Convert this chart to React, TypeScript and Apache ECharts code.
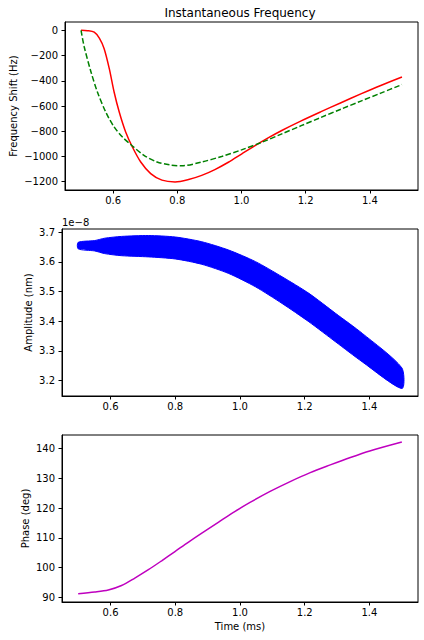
import React, { useEffect, useRef } from "react";
import * as echarts from "echarts";

// Top panel: instantaneous frequency shift (Hz) vs time (ms)
const RED_X = [0.5, 0.52, 0.541, 0.557, 0.572, 0.588, 0.603, 0.619, 0.639, 0.66, 0.686, 0.717, 0.752, 0.793, 0.835, 0.876, 0.917, 0.959, 1.0, 1.041, 1.083, 1.124, 1.186, 1.248, 1.31, 1.372, 1.434, 1.5];
const RED_Y = [0, -3, -15, -62, -146, -304, -489, -648, -806, -925, -1044, -1136, -1188, -1202, -1183, -1150, -1104, -1046, -981, -916, -853, -796, -718, -645, -574, -504, -437, -370];
const GREEN_X = [0.5, 0.51, 0.531, 0.551, 0.577, 0.603, 0.629, 0.66, 0.696, 0.737, 0.779, 0.814, 0.876, 0.938, 1.0, 1.062, 1.124, 1.186, 1.248, 1.31, 1.372, 1.434, 1.5];
const GREEN_Y = [0, -132, -330, -489, -648, -766, -846, -917, -991, -1044, -1068, -1074, -1044, -1000, -948, -889, -823, -756, -690, -625, -561, -498, -430];

// Middle panel: amplitude envelope (units of 1e-8 nm)
const AMP_X = [0.5, 0.551, 0.582, 0.634, 0.717, 0.8, 0.882, 0.965, 1.048, 1.13, 1.213, 1.296, 1.378, 1.5];
const AMP_UPPER = [3.666, 3.672, 3.68, 3.686, 3.689, 3.684, 3.668, 3.64, 3.601, 3.55, 3.494, 3.426, 3.359, 3.243];
const AMP_LOWER = [3.644, 3.637, 3.628, 3.621, 3.617, 3.61, 3.592, 3.561, 3.516, 3.46, 3.398, 3.33, 3.263, 3.173];

// Bottom panel: phase (deg)
const PHASE_X = [0.5, 0.551, 0.593, 0.634, 0.675, 0.717, 0.758, 0.799, 0.841, 0.882, 0.934, 0.985, 1.031, 1.093, 1.155, 1.217, 1.279, 1.341, 1.401, 1.5];
const PHASE_Y = [91.2, 91.8, 92.5, 94.0, 96.5, 99.3, 102.3, 105.4, 108.6, 111.6, 115.3, 118.9, 121.9, 125.6, 128.9, 131.9, 134.5, 137.0, 139.2, 142.2];

// Tick labels
const X_TICKS = [0.6, 0.8, 1.0, 1.2, 1.4];
const FREQ_TICKS = [0, -200, -400, -600, -800, -1000, -1200];
const AMP_TICKS = [3.2, 3.3, 3.4, 3.5, 3.6, 3.7];
const PHASE_TICKS = [90, 100, 110, 120, 130, 140];

const FONT = "DejaVu Sans";

const zip = (xs: number[], ys: number[]) => xs.map((x, i) => [x, ys[i]]);

export default function App() {
  const ref = useRef<HTMLDivElement>(null);
  useEffect(() => {
    if (!ref.current) return;
    const chart = echarts.init(ref.current, undefined, { renderer: "svg" });
    const grids = [
      { left: 62, top: 22, width: 356, height: 168 },
      { left: 62, top: 229, width: 356, height: 167 },
      { left: 62, top: 435, width: 356, height: 167 },
    ].map((g) => ({ ...g, show: true, borderColor: "#000", borderWidth: 1, backgroundColor: "transparent" }));

    const label = { fontSize: 10, color: "#000", fontFamily: FONT };
    const xAxes = [0, 1, 2].map((i) => ({
      type: "value",
      gridIndex: i,
      min: 0.45,
      max: 1.55,
      axisLine: { show: true, onZero: false, lineStyle: { color: "#000", width: 1 } },
      axisTick: { show: true, length: 3.5, customValues: X_TICKS, lineStyle: { color: "#000" } },
      axisLabel: { ...label, customValues: X_TICKS, margin: 5, formatter: (v: number) => v.toFixed(1) },
      splitLine: { show: false },
      name: i === 2 ? "Time (ms)" : "",
      nameLocation: "middle",
      nameGap: 19,
      nameTextStyle: label,
    }));
    const yBase = (i: number, min: number, max: number, ticks: number[], fmt: (v: number) => string, name: string, gap: number) => ({
      type: "value",
      gridIndex: i,
      min,
      max,
      axisLine: { show: true, onZero: false, lineStyle: { color: "#000", width: 1 } },
      axisTick: { show: true, length: 3.5, customValues: ticks, lineStyle: { color: "#000" } },
      axisLabel: { ...label, customValues: ticks, margin: 7, formatter: fmt },
      splitLine: { show: false },
      name,
      nameLocation: "middle",
      nameGap: gap,
      nameMoveOverlap: false,
      nameTextStyle: label,
    });
    const minus = (v: number) => (v < 0 ? "\u2212" + Math.abs(v) : String(v));
    const yAxes = [
      yBase(0, -1266, 66, FREQ_TICKS, minus, "Frequency Shift (Hz)", 47),
      yBase(1, 3.148, 3.711, AMP_TICKS, (v: number) => v.toFixed(1), "Amplitude (nm)", 29),
      yBase(2, 88.45, 144.55, PHASE_TICKS, (v: number) => String(Math.round(v)), "Phase (deg)", 32),
    ];

    const bandData = AMP_X.map((x, i) => [x, AMP_LOWER[i], AMP_UPPER[i]]);

    const option = {
      animation: false,
      grid: grids,
      xAxis: xAxes,
      yAxis: yAxes,
      graphic: [
        { type: "text", x: 240, y: 13, style: { text: "Instantaneous Frequency", fontSize: 12, fontFamily: FONT, fill: "#000", textAlign: "center", textVerticalAlign: "middle" } },
        { type: "text", x: 62, y: 222, style: { text: "1e\u22128", fontSize: 10, fontFamily: FONT, fill: "#000", textAlign: "left", textVerticalAlign: "middle" } },
      ],
      series: [
        {
          type: "line", xAxisIndex: 0, yAxisIndex: 0, data: zip(RED_X, RED_Y), symbol: "none", smooth: 0.3,
          lineStyle: { color: "#ff0000", width: 1.5 },
        },
        {
          type: "line", xAxisIndex: 0, yAxisIndex: 0, data: zip(GREEN_X, GREEN_Y), symbol: "none", smooth: 0.3,
          lineStyle: { color: "#008000", width: 1.5, type: [5.5, 2.4] },
        },
        {
          type: "custom", xAxisIndex: 1, yAxisIndex: 1, data: bandData,
          encode: { x: 0, y: [1, 2] },
          renderItem: (params: any, api: any) => {
            if (params.dataIndex !== 0) return null;
            const top = AMP_X.map((x, i) => api.coord([x, AMP_UPPER[i]]));
            const bottom = AMP_X.map((x, i) => api.coord([x, AMP_LOWER[i]])).reverse();
            return {
              type: "polygon",
              shape: { points: top.concat(bottom), smooth: 0.25 },
              style: { fill: "#0000ff", stroke: "#0000ff", lineWidth: 1 },
            };
          },
        },
        {
          type: "line", xAxisIndex: 2, yAxisIndex: 2, data: zip(PHASE_X, PHASE_Y), symbol: "none", smooth: 0.3,
          lineStyle: { color: "#bf00bf", width: 1.5 },
        },
      ],
    };
    chart.setOption(option as any);
    return () => chart.dispose();
  }, []);
  return <div ref={ref} style={{ position: "fixed", left: 0, top: 0, width: 424, height: 640, background: "#fff" }} />;
}
